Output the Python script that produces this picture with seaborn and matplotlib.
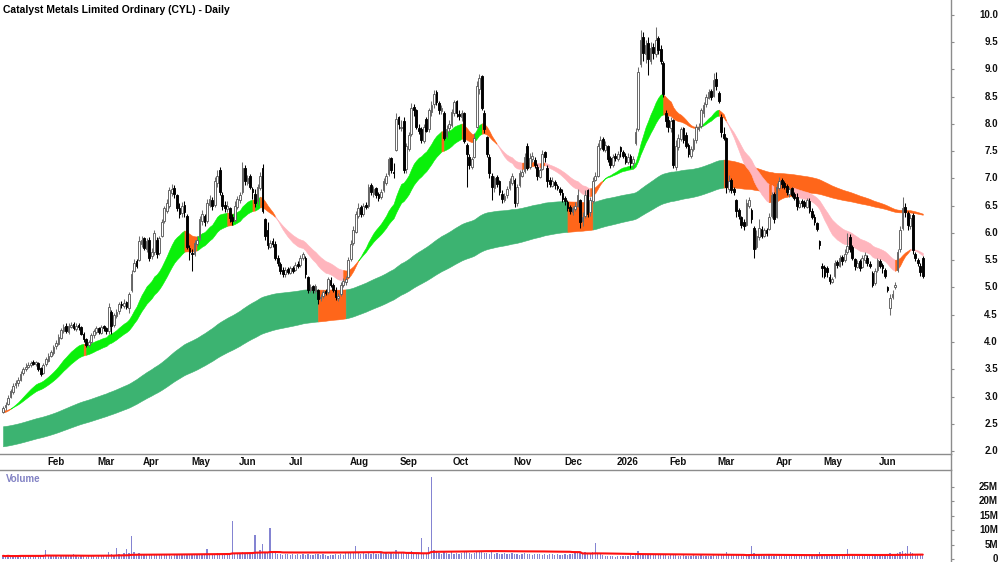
import numpy as np
import pandas as pd
import matplotlib.pyplot as plt
import seaborn as sns
from matplotlib.lines import Line2D
from matplotlib import transforms

# daily bars, Jan 2025 - Jun 2026 (one entry per trading day)
opens = [
    2.72, 2.80, 2.86, 3.00, 3.08, 3.22, 3.24, 3.30, 3.44, 3.50,
    3.55, 3.57, 3.64, 3.60, 3.62, 3.52, 3.44, 3.60, 3.66, 3.74,
    3.80, 3.92, 3.97, 4.08, 4.20, 4.30, 4.18, 4.28, 4.33, 4.24,
    4.31, 4.27, 4.15, 4.06, 3.94, 4.00, 4.12, 4.19, 4.26, 4.17,
    4.29, 4.26, 4.20, 4.55, 4.32, 4.48, 4.56, 4.70, 4.66, 4.74,
    4.62, 4.95, 5.30, 5.48, 5.50, 5.80, 5.90, 5.70, 5.88, 5.58,
    5.66, 5.88, 5.64, 5.95, 6.22, 6.40, 6.50, 6.74, 6.82, 6.70,
    6.45, 6.36, 6.52, 6.32, 5.72, 5.64, 5.62, 5.80, 5.92, 6.22,
    6.32, 6.22, 6.52, 6.60, 6.52, 6.92, 7.15, 6.70, 6.52, 6.44,
    6.45, 6.30, 6.24, 6.48, 6.60, 6.75, 7.20, 6.92, 7.05, 6.80,
    6.72, 6.58, 6.82, 7.20, 6.25, 6.05, 5.75, 5.85, 5.80, 5.55,
    5.44, 5.32, 5.24, 5.34, 5.26, 5.36, 5.32, 5.44, 5.42, 5.55,
    5.55, 5.20, 4.96, 5.02, 4.94, 4.95, 4.80, 4.84, 4.94, 4.92,
    5.14, 5.05, 4.96, 4.80, 4.88, 5.05, 5.10, 5.20, 5.52, 5.82,
    6.02, 6.32, 6.48, 6.35, 6.52, 6.50, 6.88, 6.72, 6.82, 6.72,
    6.66, 6.78, 6.92, 7.08, 7.38, 7.12, 7.52, 8.12, 7.92, 8.05,
    7.18, 7.55, 7.82, 8.32, 8.25, 7.92, 7.90, 7.68, 8.10, 7.90,
    8.22, 8.36, 8.58, 8.38, 8.24, 8.20, 7.78, 7.92, 7.98, 8.20,
    8.42, 8.18, 8.12, 8.20, 7.62, 7.40, 7.22, 7.40, 7.95, 8.65,
    8.88, 8.20, 7.76, 7.40, 7.05, 6.82, 7.02, 6.95, 6.72, 6.60,
    6.70, 6.82, 6.92, 6.97, 6.55, 6.88, 7.05, 7.14, 7.60, 7.22,
    7.36, 7.34, 7.22, 7.02, 7.18, 7.48, 7.20, 6.98, 6.86, 6.94,
    6.86, 6.80, 6.74, 6.64, 6.56, 6.48, 6.38, 6.44, 6.50, 6.60,
    6.22, 6.32, 6.78, 6.38, 6.58, 6.98, 7.05, 7.56, 7.72, 7.52,
    7.60, 7.38, 7.24, 7.42, 7.36, 7.58, 7.48, 7.42, 7.30, 7.42,
    7.28, 7.66, 7.90, 9.10, 9.60, 9.28, 9.48, 9.15, 9.42, 9.28,
    9.58, 9.38, 9.12, 8.20, 8.08, 7.92, 8.07, 7.22, 7.58, 7.72,
    7.92, 7.80, 7.62, 7.42, 7.55, 7.70, 7.90, 7.96, 8.20, 8.36,
    8.48, 8.60, 8.52, 8.82, 8.56, 8.13, 7.82, 7.74, 6.80, 6.97,
    6.80, 6.60, 6.42, 6.30, 6.20, 6.15, 6.50, 6.42, 6.10, 5.75,
    5.92, 6.08, 5.94, 6.06, 6.08, 6.32, 6.72, 6.30, 6.82, 6.98,
    6.92, 6.86, 6.72, 6.82, 6.72, 6.66, 6.48, 6.58, 6.56, 6.48,
    6.58, 6.40, 6.30, 6.18, 5.85, 5.40, 5.38, 5.36, 5.20, 5.10,
    5.22, 5.46, 5.40, 5.56, 5.50, 5.66, 5.93, 5.74, 5.52, 5.38,
    5.48, 5.38, 5.50, 5.55, 5.44, 5.27, 5.08, 5.32, 5.48, 5.42,
    5.32, 5.00, 4.62, 4.82, 5.00, 5.32, 5.70, 6.10, 6.48, 6.37, 6.12, 6.33, 5.62, 5.50, 5.40, 5.55,
]
highs = [
    2.82, 2.90, 3.02, 3.14, 3.25, 3.30, 3.36, 3.46, 3.55, 3.62,
    3.63, 3.66, 3.67, 3.66, 3.64, 3.55, 3.62, 3.72, 3.80, 3.86,
    3.95, 4.03, 4.14, 4.26, 4.33, 4.34, 4.34, 4.37, 4.36, 4.34,
    4.34, 4.29, 4.18, 4.08, 4.04, 4.16, 4.24, 4.30, 4.28, 4.32,
    4.32, 4.28, 4.72, 4.58, 4.54, 4.60, 4.74, 4.75, 4.78, 4.76,
    4.92, 5.32, 5.52, 5.52, 5.95, 5.95, 5.93, 5.90, 5.92, 5.72,
    6.06, 5.92, 5.95, 6.25, 6.50, 6.62, 6.85, 6.90, 6.88, 6.72,
    6.55, 6.56, 6.58, 6.35, 5.78, 5.70, 5.88, 5.94, 6.32, 6.42,
    6.35, 6.62, 6.70, 6.66, 7.02, 7.15, 7.22, 6.76, 6.58, 6.58,
    6.48, 6.35, 6.58, 6.68, 6.76, 7.30, 7.25, 7.06, 7.08, 6.85,
    6.80, 6.90, 7.12, 7.26, 6.28, 6.20, 5.88, 5.90, 5.85, 5.60,
    5.47, 5.38, 5.38, 5.38, 5.40, 5.40, 5.47, 5.48, 5.60, 5.66,
    5.58, 5.22, 5.06, 5.05, 5.06, 4.98, 4.88, 4.96, 4.97, 5.20,
    5.20, 5.08, 5.00, 4.90, 5.10, 5.18, 5.22, 5.56, 5.88, 6.12,
    6.40, 6.55, 6.52, 6.55, 6.56, 6.90, 6.92, 6.86, 6.85, 6.75,
    6.80, 7.00, 7.10, 7.40, 7.40, 7.28, 8.20, 8.15, 8.07, 8.13,
    7.65, 7.85, 8.38, 8.36, 8.28, 8.00, 7.95, 8.00, 8.13, 8.30,
    8.42, 8.62, 8.62, 8.42, 8.34, 8.24, 7.98, 8.07, 8.28, 8.44,
    8.44, 8.26, 8.26, 8.22, 7.66, 7.45, 7.40, 7.83, 8.78, 8.92,
    8.90, 8.26, 7.78, 7.45, 7.10, 7.05, 7.06, 6.98, 6.78, 6.74,
    6.86, 7.00, 7.10, 7.00, 6.90, 7.15, 7.18, 7.46, 7.65, 7.46,
    7.48, 7.40, 7.26, 7.20, 7.52, 7.50, 7.24, 7.02, 7.02, 6.98,
    6.90, 6.84, 6.80, 6.68, 6.60, 6.52, 6.50, 6.56, 6.80, 6.62,
    6.38, 6.78, 6.80, 6.66, 7.03, 7.12, 7.65, 7.78, 7.76, 7.68,
    7.62, 7.42, 7.45, 7.46, 7.50, 7.60, 7.52, 7.46, 7.46, 7.45,
    7.42, 7.92, 9.05, 9.72, 9.68, 9.55, 9.60, 9.50, 9.48, 9.78,
    9.62, 9.45, 9.15, 8.25, 8.15, 8.12, 8.10, 7.70, 7.82, 7.95,
    7.95, 7.85, 7.66, 7.60, 7.75, 8.00, 8.02, 8.30, 8.40, 8.55,
    8.65, 8.64, 8.93, 8.95, 8.60, 8.18, 7.95, 7.76, 7.06, 7.00,
    6.84, 6.62, 6.45, 6.32, 6.25, 6.62, 6.66, 6.45, 6.12, 6.05,
    6.25, 6.12, 6.10, 6.10, 6.36, 6.75, 6.75, 6.92, 7.03, 7.00,
    6.96, 6.90, 6.85, 6.84, 6.76, 6.73, 6.60, 6.62, 6.60, 6.64,
    6.64, 6.45, 6.35, 6.20, 5.87, 5.45, 5.42, 5.40, 5.24, 5.20,
    5.50, 5.50, 5.60, 5.60, 5.70, 6.00, 5.98, 5.78, 5.55, 5.50,
    5.52, 5.60, 5.66, 5.60, 5.48, 5.30, 5.36, 5.55, 5.52, 5.45,
    5.36, 5.02, 4.88, 4.95, 5.10, 5.70, 6.12, 6.66, 6.55, 6.40, 6.35, 6.36, 5.66, 5.55, 5.45, 5.58,
]
lows = [
    2.70, 2.76, 2.84, 2.97, 3.05, 3.15, 3.20, 3.28, 3.40, 3.46,
    3.52, 3.54, 3.57, 3.56, 3.46, 3.38, 3.42, 3.56, 3.64, 3.72,
    3.76, 3.88, 3.95, 4.05, 4.16, 4.17, 4.15, 4.25, 4.22, 4.20,
    4.22, 4.12, 4.00, 3.90, 3.91, 3.98, 4.08, 4.15, 4.15, 4.14,
    4.20, 4.15, 4.15, 4.15, 4.28, 4.44, 4.52, 4.62, 4.62, 4.60,
    4.53, 4.92, 5.28, 5.36, 5.48, 5.75, 5.68, 5.66, 5.48, 5.52,
    5.60, 5.55, 5.60, 5.92, 6.18, 6.36, 6.46, 6.68, 6.65, 6.40,
    6.28, 6.30, 6.30, 5.70, 5.50, 5.30, 5.58, 5.76, 5.88, 6.15,
    6.12, 6.18, 6.48, 6.42, 6.48, 6.85, 6.70, 6.42, 6.38, 6.38,
    6.20, 6.15, 6.20, 6.44, 6.55, 6.72, 6.88, 6.88, 6.80, 6.62,
    6.48, 6.52, 6.78, 6.36, 5.87, 5.70, 5.72, 5.74, 5.50, 5.40,
    5.25, 5.20, 5.20, 5.24, 5.24, 5.26, 5.30, 5.35, 5.38, 5.50,
    5.18, 4.90, 4.92, 4.90, 4.90, 4.70, 4.75, 4.80, 4.86, 4.88,
    5.00, 4.92, 4.77, 4.76, 4.85, 5.00, 5.05, 5.18, 5.48, 5.78,
    6.00, 6.28, 6.30, 6.32, 6.44, 6.45, 6.70, 6.66, 6.65, 6.58,
    6.62, 6.75, 6.88, 7.05, 7.10, 7.00, 7.50, 7.90, 7.88, 7.10,
    7.10, 7.50, 7.78, 8.15, 7.90, 7.82, 7.65, 7.65, 7.85, 7.86,
    8.15, 8.30, 8.35, 8.18, 8.18, 7.70, 7.74, 7.85, 7.95, 8.15,
    8.13, 8.07, 8.05, 7.65, 6.85, 7.18, 7.18, 7.38, 7.92, 8.55,
    8.26, 7.83, 7.40, 7.00, 6.60, 6.75, 6.85, 6.70, 6.55, 6.56,
    6.65, 6.78, 6.88, 6.48, 6.50, 6.85, 7.02, 7.10, 7.15, 7.18,
    7.30, 7.20, 6.97, 7.00, 7.15, 7.30, 6.85, 6.84, 6.84, 6.80,
    6.78, 6.70, 6.57, 6.52, 6.40, 6.35, 6.33, 6.40, 6.48, 6.10,
    6.12, 6.28, 6.30, 6.32, 6.55, 6.95, 7.03, 7.52, 7.50, 7.48,
    7.30, 7.20, 7.22, 7.33, 7.32, 7.40, 7.38, 7.26, 7.26, 7.20,
    7.20, 7.62, 7.88, 9.05, 9.15, 9.12, 8.90, 9.10, 9.20, 9.22,
    9.28, 9.10, 8.50, 7.95, 7.85, 7.85, 7.20, 7.15, 7.52, 7.68,
    7.66, 7.56, 7.40, 7.38, 7.50, 7.66, 7.88, 7.92, 8.13, 8.32,
    8.45, 8.44, 8.50, 8.62, 8.38, 7.76, 7.70, 6.73, 6.76, 6.74,
    6.70, 6.30, 6.25, 6.10, 6.05, 6.12, 6.45, 6.18, 5.55, 5.70,
    5.88, 5.90, 5.92, 5.94, 6.05, 6.28, 6.18, 6.28, 6.78, 6.82,
    6.80, 6.70, 6.66, 6.66, 6.60, 6.42, 6.45, 6.48, 6.46, 6.45,
    6.36, 6.25, 6.15, 6.04, 5.70, 5.20, 5.18, 5.20, 5.06, 5.08,
    5.18, 5.36, 5.38, 5.42, 5.46, 5.62, 5.66, 5.50, 5.32, 5.35,
    5.30, 5.35, 5.45, 5.40, 5.36, 5.00, 5.04, 5.28, 5.36, 5.27,
    5.18, 4.92, 4.50, 4.78, 4.98, 5.28, 5.65, 6.05, 6.30, 6.05, 6.08, 5.62, 5.48, 5.40, 5.22, 5.18,
]
closes = [
    2.78, 2.85, 2.98, 3.10, 3.20, 3.25, 3.30, 3.42, 3.50, 3.55,
    3.58, 3.62, 3.60, 3.63, 3.50, 3.42, 3.58, 3.68, 3.75, 3.82,
    3.90, 3.98, 4.10, 4.22, 4.28, 4.20, 4.30, 4.32, 4.25, 4.30,
    4.28, 4.15, 4.05, 3.95, 4.00, 4.12, 4.20, 4.25, 4.18, 4.28,
    4.25, 4.20, 4.65, 4.30, 4.50, 4.55, 4.70, 4.68, 4.72, 4.65,
    4.88, 5.25, 5.45, 5.40, 5.85, 5.88, 5.72, 5.85, 5.55, 5.65,
    6.00, 5.62, 5.90, 6.20, 6.45, 6.55, 6.78, 6.80, 6.72, 6.45,
    6.35, 6.50, 6.38, 5.75, 5.65, 5.62, 5.82, 5.88, 6.25, 6.35,
    6.20, 6.55, 6.62, 6.50, 6.95, 7.05, 6.75, 6.50, 6.45, 6.50,
    6.28, 6.22, 6.50, 6.62, 6.70, 7.20, 6.95, 7.00, 6.85, 6.75,
    6.55, 6.85, 7.05, 6.40, 5.95, 5.78, 5.82, 5.80, 5.55, 5.45,
    5.30, 5.25, 5.32, 5.28, 5.35, 5.30, 5.42, 5.40, 5.55, 5.62,
    5.25, 4.95, 5.00, 4.95, 5.02, 4.78, 4.82, 4.92, 4.90, 5.15,
    5.05, 4.95, 4.82, 4.85, 5.05, 5.12, 5.15, 5.50, 5.80, 6.05,
    6.35, 6.45, 6.35, 6.50, 6.48, 6.85, 6.75, 6.80, 6.70, 6.65,
    6.75, 6.95, 7.05, 7.35, 7.15, 7.10, 8.10, 8.00, 7.95, 7.15,
    7.60, 7.80, 8.30, 8.25, 7.95, 7.88, 7.70, 7.95, 7.88, 8.25,
    8.35, 8.55, 8.40, 8.25, 8.30, 7.75, 7.90, 8.00, 8.22, 8.40,
    8.20, 8.15, 8.20, 7.68, 7.45, 7.25, 7.35, 7.75, 8.70, 8.85,
    8.30, 7.90, 7.45, 7.10, 6.85, 7.00, 6.90, 6.75, 6.62, 6.68,
    6.80, 6.95, 7.05, 6.55, 6.85, 7.10, 7.12, 7.40, 7.20, 7.38,
    7.42, 7.25, 7.05, 7.15, 7.45, 7.40, 6.95, 6.90, 6.95, 6.88,
    6.82, 6.75, 6.62, 6.58, 6.45, 6.40, 6.45, 6.50, 6.70, 6.20,
    6.30, 6.70, 6.35, 6.60, 6.95, 7.05, 7.60, 7.70, 7.55, 7.62,
    7.35, 7.25, 7.40, 7.38, 7.45, 7.50, 7.42, 7.30, 7.40, 7.28,
    7.35, 7.85, 8.95, 9.55, 9.30, 9.45, 9.20, 9.40, 9.30, 9.55,
    9.35, 9.15, 8.55, 8.05, 7.95, 8.05, 7.25, 7.60, 7.75, 7.90,
    7.70, 7.60, 7.45, 7.55, 7.70, 7.95, 7.95, 8.25, 8.35, 8.50,
    8.58, 8.50, 8.80, 8.70, 8.42, 7.85, 7.75, 6.85, 6.95, 6.78,
    6.75, 6.40, 6.32, 6.15, 6.12, 6.55, 6.60, 6.25, 5.70, 5.95,
    6.10, 5.95, 6.05, 6.00, 6.30, 6.70, 6.25, 6.85, 6.95, 6.90,
    6.85, 6.75, 6.80, 6.70, 6.65, 6.50, 6.55, 6.55, 6.50, 6.60,
    6.40, 6.30, 6.20, 6.08, 5.78, 5.35, 5.22, 5.28, 5.12, 5.15,
    5.45, 5.42, 5.55, 5.48, 5.62, 5.76, 5.70, 5.55, 5.40, 5.45,
    5.35, 5.55, 5.60, 5.45, 5.40, 5.05, 5.30, 5.50, 5.40, 5.35,
    5.22, 4.95, 4.80, 4.88, 5.05, 5.65, 6.05, 6.45, 6.38, 6.15, 6.28, 5.68, 5.55, 5.45, 5.28, 5.22,
]
# volume in millions of shares
volumes = [
    1.1, 0.9, 1.3, 0.8, 1.0, 1.2, 0.9, 1.4, 1.1, 0.8,
    1.0, 1.3, 0.9, 1.2, 1.1, 1.0, 1.4, 3.1, 1.2, 0.9,
    1.5, 1.1, 0.8, 1.3, 1.0, 1.2, 0.9, 1.1, 1.6, 1.0,
    0.7, 0.9, 1.1, 0.8, 1.0, 1.2, 0.9, 0.8, 1.1, 1.0,
    1.2, 1.5, 2.4, 1.8, 1.3, 3.9, 1.6, 1.2, 2.2, 3.4,
    2.0, 8.0, 2.6, 1.9, 2.1, 1.6, 1.4, 1.8, 1.5, 1.3,
    1.9, 1.6, 1.4, 1.7, 1.5, 1.3, 1.6, 1.2, 1.5, 1.4,
    1.3, 1.7, 1.5, 1.8, 1.4, 1.6, 1.3, 1.5, 1.9, 1.4,
    1.6, 3.5, 1.8, 1.5, 1.7, 2.0, 1.6, 1.8, 1.5, 1.7,
    1.4, 13.2, 1.9, 2.1, 1.6, 2.4, 1.8, 2.2, 1.7, 2.0,
    8.3, 2.4, 3.1, 5.2, 2.5, 2.2, 10.6, 2.3, 2.0, 1.8,
    1.7, 1.5, 1.9, 1.6, 1.4, 1.8, 1.5, 1.7, 1.3, 1.6,
    1.4, 1.8, 1.5, 1.3, 1.6, 1.9, 1.4, 1.7, 1.5, 1.2,
    1.5, 1.3, 1.6, 1.4, 1.8, 1.5, 2.0, 2.3, 2.6, 2.1,
    4.5, 2.2, 1.8, 2.0, 1.7, 2.3, 1.9, 2.1, 1.6, 1.8,
    2.0, 1.7, 2.4, 1.9, 2.2, 1.8, 3.0, 2.1, 2.6, 2.0,
    1.9, 2.2, 2.8, 1.8, 2.0, 1.7, 7.4, 2.1, 1.9, 4.3,
    28.6, 3.2, 2.5, 2.2, 1.9, 2.6, 2.0, 1.8, 2.3, 1.9,
    2.1, 1.8, 2.0, 2.4, 2.8, 2.2, 1.9, 2.1, 2.7, 2.5,
    2.3, 2.0, 2.2, 1.9, 2.4, 1.8, 2.1, 1.7, 1.9, 2.0,
    1.8, 1.6, 2.0, 1.7, 1.9, 1.5, 1.8, 2.1, 1.6, 1.7,
    1.5, 1.8, 1.6, 1.9, 1.4, 1.7, 1.5, 1.6, 1.8, 1.4,
    1.6, 1.3, 1.5, 1.7, 1.4, 1.6, 1.8, 2.0, 2.1, 2.2,
    1.9, 2.3, 2.0, 1.8, 2.4, 5.4, 1.9, 1.6, 1.4, 1.2,
    1.0, 0.9, 1.1, 0.8, 1.0, 1.2, 0.9, 1.1, 1.0, 1.3,
    1.2, 1.5, 2.8, 1.9, 1.6, 1.4, 1.8, 1.5, 1.3, 1.6,
    1.4, 1.3, 1.7, 1.5, 1.2, 1.4, 1.6, 1.3, 1.2, 1.1,
    1.3, 1.0, 1.2, 1.1, 1.4, 1.2, 1.0, 1.3, 1.1, 1.2,
    1.0, 1.1, 1.4, 1.2, 1.3, 1.6, 1.8, 2.3, 1.7, 1.5,
    1.6, 1.4, 1.3, 1.5, 1.2, 1.4, 1.6, 4.6, 2.0, 1.5,
    1.3, 1.4, 1.2, 1.1, 1.3, 1.0, 1.2, 1.1, 1.4, 1.0,
    1.2, 0.9, 1.1, 1.3, 1.0, 1.2, 1.1, 0.9, 1.3, 1.0,
    1.2, 1.4, 1.1, 1.6, 2.5, 1.9, 1.5, 1.3, 1.4, 1.2,
    1.1, 1.3, 1.0, 1.2, 1.4, 3.4, 1.6, 1.3, 1.1, 1.2,
    1.0, 1.1, 1.3, 1.0, 1.2, 1.4, 1.1, 1.3, 1.5, 1.2,
    1.6, 1.9, 2.2, 1.8, 1.7, 2.0, 2.4, 2.8, 2.1, 4.6, 2.6, 2.2, 1.8, 1.5, 1.4, 1.3,
]

# first bar of each month on the time axis
month_labels = ['Feb', 'Mar', 'Apr', 'May', 'Jun', 'Jul', 'Aug', 'Sep', 'Oct',
                'Nov', 'Dec', '2026', 'Feb', 'Mar', 'Apr', 'May', 'Jun']
month_first_bar = [17, 37, 55, 74, 93, 113, 137, 157, 178, 202, 222, 243,
                   264, 283, 306, 325, 347]

price_ticks = [2.0, 2.5, 3.0, 3.5, 4.0, 4.5, 5.0, 5.5, 6.0, 6.5, 7.0, 7.5,
               8.0, 8.5, 9.0, 9.5, 10.0]
volume_ticks = [0, 5, 10, 15, 20, 25]

# ribbon settings: (fast, slow) EMA periods and their values before the first bar
short_periods = (21, 34)
short_start = (2.70, 2.74)
long_periods = (150, 220)
long_start = (2.45, 2.08)
# bars (first, last) where the long ribbon is shown as bearish
long_bear_spans = [(125, 136), (224, 234), (286, 365)]
volume_ma_period = 60

GREEN = '#0af00a'
ORANGE = '#ff661a'
PINK = '#ffb5bd'
SEA = '#3cb371'
GREY = '#8c8c8c'


def ema(values, n, start):
    a = 2.0 / (n + 1)
    out = np.empty(len(values))
    prev = start
    for i, v in enumerate(values):
        prev = prev + a * (v - prev)
        out[i] = prev
    return out


def fill_band(ax, fast, slow, colors):
    x = np.arange(len(fast))
    lo = np.minimum(fast, slow)
    hi = np.maximum(fast, slow)
    seg = colors[1:]  # colour of the step i -> i+1
    start = 0
    for k in range(1, len(seg) + 1):
        if k == len(seg) or seg[k] != seg[start]:
            ax.fill_between(x[start:k + 1], lo[start:k + 1], hi[start:k + 1],
                            color=seg[start], lw=0.4, zorder=1)
            start = k


sns.set_style('white')
plt.rcParams['font.family'] = ['Liberation Sans', 'DejaVu Sans']

o = np.array(opens)
h = np.array(highs)
l = np.array(lows)
c = np.array(closes)
v = np.array(volumes)
idx = np.arange(len(c))

# ribbons
sf = ema(c, short_periods[0], short_start[0])
ss = ema(c, short_periods[1], short_start[1])
lf = ema(c, long_periods[0], long_start[0])
ls = ema(c, long_periods[1], long_start[1])

s_rise = np.diff(np.r_[short_start[0], sf]) > 0
short_cols = np.where((sf >= ss) & s_rise, GREEN,
                      np.where((sf < ss) & ~s_rise, PINK, ORANGE))
long_cols = np.full(len(c), SEA, dtype=object)
for first, last in long_bear_spans:
    long_cols[first + 1:last + 1] = ORANGE

fig = plt.figure(figsize=(10, 5.62), dpi=100)
ax = fig.add_axes([0, 1 - 454 / 562, 0.951, 454 / 562])
axv = fig.add_axes([0, 0, 0.951, 92 / 562])

fill_band(ax, lf, ls, long_cols)
fill_band(ax, sf, ss, short_cols)

# candles
up = c >= o
ax.vlines(idx[up], l[up], h[up], color='#6e6e6e', lw=0.75, zorder=2)
ax.vlines(idx[~up], l[~up], h[~up], color='black', lw=0.75, zorder=2)
body = np.maximum(np.abs(c - o), 0.012)
ax.bar(idx[up], body[up], bottom=o[up], width=0.68, color='white',
       edgecolor='#5e5e5e', lw=0.65, zorder=3)
ax.bar(idx[~up], body[~up], bottom=c[~up], width=0.68, color='black',
       edgecolor='black', lw=0.65, zorder=3)

ax.set_xlim(-1.19, 376.2)
ax.set_ylim(1.945, 10.275)
ax.set_yticks(price_ticks)
ax.yaxis.tick_right()
ax.tick_params(axis='y', direction='out', length=2.5, width=0.8, color=GREY,
               labelright=False, labelleft=False)
ax.set_xticks(np.array(month_first_bar) - 0.5)
ax.set_xticklabels([])
ax.tick_params(axis='x', direction='out', length=3, width=0.8, color=GREY)
for s in ['top', 'left']:
    ax.spines[s].set_visible(False)
for s in ['right', 'bottom']:
    ax.spines[s].set_color(GREY)
    ax.spines[s].set_linewidth(1)

yt = ax.get_yaxis_transform()
for p in price_ticks:
    ax.text(1 + 47 / 951, p, f'{p:.1f}', transform=yt, ha='right', va='center',
            fontsize=7, fontweight='bold', color='#111111')

xt = transforms.offset_copy(ax.get_xaxis_transform(), fig=fig, x=2, y=0, units='points')
for lab, pos in zip(month_labels, month_first_bar):
    ax.text(pos - 0.5, -8 / 454, lab, transform=xt, ha='left', va='center',
            fontsize=7, fontweight='bold', color='#111111')

ax.text(3 / 951, 1 - 10 / 454, 'Catalyst Metals Limited Ordinary (CYL) - Daily',
        transform=ax.transAxes, ha='left', va='center', fontsize=7.5,
        fontweight='bold', color='black')

# volume pane
vol_ma = pd.Series(v).rolling(volume_ma_period, min_periods=1).mean()
axv.bar(idx, v, width=0.5, color='#8484d2', lw=0, zorder=2)
sns.lineplot(x=idx, y=vol_ma.values, ax=axv, color='#ff1010', linewidth=1.5, zorder=3)
axv.set_xlim(-1.19, 376.2)
axv.set_ylim(-1.04, 30.9)
axv.set_xticks([])
axv.set_yticks(volume_ticks)
axv.yaxis.tick_right()
axv.tick_params(axis='y', direction='out', length=2.5, width=0.8, color=GREY,
                labelright=False, labelleft=False)
for s in ['left', 'bottom']:
    axv.spines[s].set_visible(False)
for s in ['right', 'top']:
    axv.spines[s].set_color(GREY)
    axv.spines[s].set_linewidth(1)
vt = axv.get_yaxis_transform()
for t in volume_ticks:
    axv.text(1 + 47 / 951, t, f'{t}M' if t else '0', transform=vt, ha='right',
             va='center', fontsize=7, fontweight='bold', color='#111111')
axv.text(6 / 951, 1 - 9 / 92, 'Volume', transform=axv.transAxes, ha='left',
         va='center', fontsize=7, fontweight='bold', color='#8282c4')

fig.add_artist(Line2D([0.951, 0.951], [1 - 470 / 562, 1 - 454 / 562],
                      color=GREY, lw=1))

fig.savefig('out.png', dpi=100)
